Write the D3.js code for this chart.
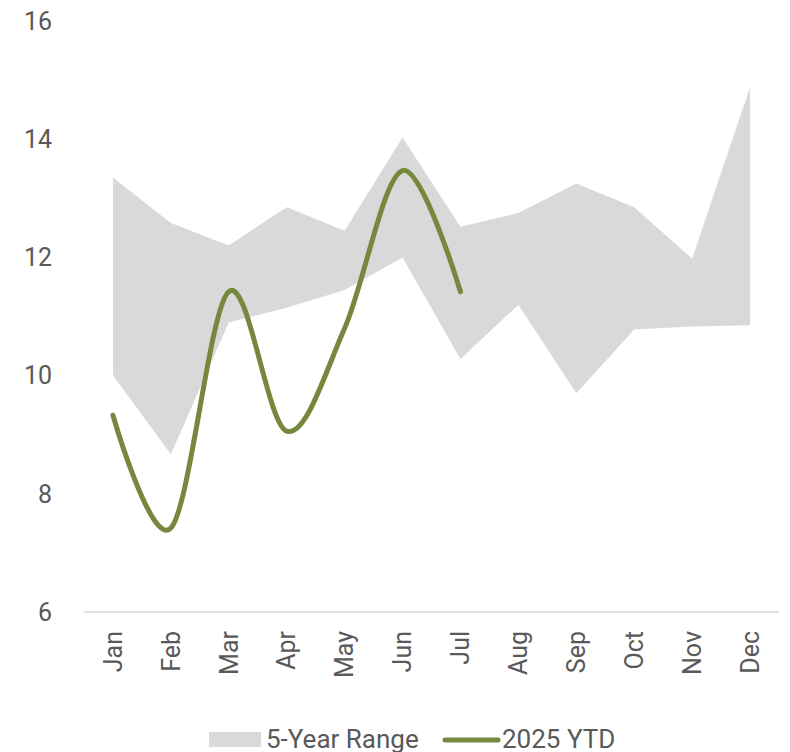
<!DOCTYPE html>
<html>
<head>
<meta charset="utf-8">
<script src="https://cdn.jsdelivr.net/npm/d3@7"></script>
<style>
  body { margin: 0; background: #fff; }
  text { font-family: Roboto, "Noto Sans", sans-serif; fill: #595959; }
</style>
</head>
<body>
<svg id="chart" width="790" height="752"></svg>
<script>
const months = ['Jan', 'Feb', 'Mar', 'Apr', 'May', 'Jun', 'Jul', 'Aug', 'Sep', 'Oct', 'Nov', 'Dec'];
const rangeHigh = [13.35, 12.58, 12.2, 12.85, 12.45, 14.03, 12.52, 12.75, 13.25, 12.85, 11.98, 14.88];
const rangeLow = [10.0, 8.67, 10.9, 11.15, 11.45, 12.0, 10.28, 11.2, 9.7, 10.78, 10.83, 10.85];
const ytd = [9.33, 7.42, 11.42, 9.06, 10.8, 13.47, 11.42];
const yTicks = [6, 8, 10, 12, 14, 16];

const svg = d3.select('#chart');

const x = d3.scaleBand().domain(months).range([84, 779]);
const y = d3.scaleLinear().domain([6, 16]).range([612, 21]);
const cx = (m) => x(m) + x.bandwidth() / 2;

// 5-year range band
const band = months.map((m, i) => ({m, lo: rangeLow[i], hi: rangeHigh[i]}));
svg.append('path')
  .datum(band)
  .attr('fill', '#d9d9d9')
  .attr('d', d3.area()
    .x((d) => cx(d.m))
    .y0((d) => y(d.lo))
    .y1((d) => y(d.hi)));

// x axis baseline
svg.append('line')
  .attr('x1', 84).attr('x2', 779)
  .attr('y1', y(6)).attr('y2', y(6))
  .attr('stroke', '#d9d9d9')
  .attr('stroke-width', 1.5);

// y labels
svg.append('g')
  .selectAll('text')
  .data(yTicks)
  .join('text')
  .attr('x', 52)
  .attr('y', (d) => y(d))
  .attr('dy', '0.35em')
  .attr('text-anchor', 'end')
  .style('font-size', '25px')
  .text((d) => d);

// x labels, rotated
svg.append('g')
  .selectAll('text')
  .data(months)
  .join('text')
  .attr('transform', (d) => 'translate(' + cx(d) + ',631) rotate(-90)')
  .attr('dy', '0.35em')
  .attr('text-anchor', 'end')
  .style('font-size', '25px')
  .text((d) => d);

// 2025 YTD smoothed line
const line = d3.line()
  .x((d, i) => cx(months[i]))
  .y((d) => y(d))
  .curve(d3.curveCatmullRom.alpha(0));

svg.append('path')
  .datum(ytd)
  .attr('fill', 'none')
  .attr('stroke', '#76883d')
  .attr('stroke-width', 5)
  .attr('stroke-linecap', 'round')
  .attr('d', line);

// legend
const lg = svg.append('g');
lg.append('rect')
  .attr('x', 209).attr('y', 732)
  .attr('width', 52).attr('height', 15)
  .attr('fill', '#d9d9d9');
lg.append('text')
  .attr('x', 266).attr('y', 748)
  .style('font-size', '26px')
  .text('5-Year Range');
lg.append('line')
  .attr('x1', 445).attr('x2', 498)
  .attr('y1', 740).attr('y2', 740)
  .attr('stroke', '#76883d')
  .attr('stroke-width', 5)
  .attr('stroke-linecap', 'round');
lg.append('text')
  .attr('x', 502).attr('y', 748)
  .style('font-size', '26px')
  .text('2025 YTD');
</script>
</body>
</html>
